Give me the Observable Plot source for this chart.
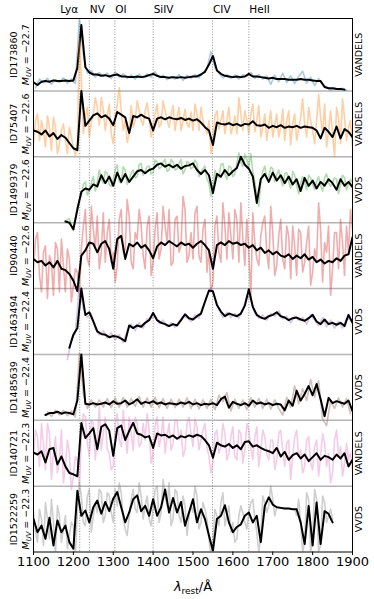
<!DOCTYPE html>
<html>
<head>
<meta charset="utf-8">
<script src="https://cdn.jsdelivr.net/npm/d3@7"></script>
<script src="https://cdn.jsdelivr.net/npm/@observablehq/plot@0.6"></script>
<style>
html,body{margin:0;padding:0;background:#fff;}
#chart{width:374px;height:599px;overflow:hidden;}
</style>
</head>
<body>
<div id="chart"></div>
<script>
const ids = ["ID173860","ID75407","ID1499379","ID90440","ID1463494","ID1485639","ID140721","ID1522259"];
const muv = ["−22.7","−22.6","−22.6","−22.6","−22.4","−22.4","−22.3","−22.3"];
const surveys = ["VANDELS","VANDELS","VVDS","VANDELS","VVDS","VVDS","VANDELS","VVDS"];
const colors = ["#1f77b4","#ff7f0e","#2ca02c","#d62728","#9467bd","#8c564b","#e377c2","#7f7f7f"];
const lineNames = ["Lyα","NV","OI","SiIV","CIV","HeII"];
const lineWaves = [1216,1240,1304,1400,1549,1640];
const xTicks = [1100,1200,1300,1400,1500,1600,1700,1800,1900];

const lamSmooth = [1100,1110,1120,1130,1140,1150,1160,1170,1180,1190,
  1200,1210,1220,1230,1240,1250,1260,1270,1280,1290,
  1300,1310,1320,1330,1340,1350,1360,1370,1380,1390,
  1400,1410,1420,1430,1440,1450,1460,1470,1480,1490,
  1500,1510,1520,1530,1540,1550,1560,1570,1580,1590,
  1600,1610,1620,1630,1640,1650,1660,1670,1680,1690,
  1700,1710,1720,1730,1740,1750,1760,1770,1780,1790,
  1800,1810,1820,1830,1840,1850,1860,1870,1880,1890,1900];
const lamRaw = [1105,1115,1125,1135,1145,1155,1165,1175,1185,1195,
  1205,1215,1225,1235,1245,1255,1265,1275,1285,1295,
  1305,1315,1325,1335,1345,1355,1365,1375,1385,1395,
  1405,1415,1425,1435,1445,1455,1465,1475,1485,1495,
  1505,1515,1525,1535,1545,1555,1565,1575,1585,1595,
  1605,1615,1625,1635,1645,1655,1665,1675,1685,1695,
  1705,1715,1725,1735,1745,1755,1765,1775,1785,1795,
  1805,1815,1825,1835,1845,1855,1865,1875,1885,1895];

// smoothed (black) spectra, in panel units, on lamSmooth
const smooth1 = [.13,.09,.14,.15,.14,.16,.15,.15,.16,.15,
  .16,.35,1.0,.36,.28,.25,.25,.23,.24,.22,
  .24,.25,.22,.22,.21,.21,.22,.21,.22,.24,
  .26,.23,.21,.21,.20,.21,.20,.21,.20,.21,
  .22,.22,.25,.29,.40,.53,.31,.26,.23,.22,
  .21,.22,.21,.22,.26,.22,.22,.21,.20,.19,
  .20,.18,.18,.18,.17,.17,.17,.18,.17,.17,
  .16,.15,.15,.06,.04,.04,.03,.03,.02,null,null];
const smooth2 = [.40,.38,.34,.40,.31,.36,.27,.33,.29,.21,
  .13,.10,1.0,.47,.55,.63,.66,.60,.63,.58,
  .48,.68,.64,.60,.36,.62,.60,.64,.60,.58,
  .40,.58,.60,.57,.60,.58,.57,.59,.56,.58,
  .55,.57,.52,.45,.40,.18,.52,.50,.49,.51,
  .48,.50,.47,.50,.49,.54,.48,.47,.49,.44,
  .47,.45,.48,.44,.46,.45,.47,.44,.46,.45,
  .44,.40,.28,.44,.38,.30,.46,.28,.42,.38,.30];
const smooth3 = [null,null,null,null,null,null,null,null,.02,.00,
  -.10,.20,.47,.52,.50,.58,.55,.72,.60,.70,
  .56,.76,.62,.74,.62,.70,.78,.80,.75,.80,
  .82,.88,.90,.85,.88,.84,.88,.82,.86,.87,
  .90,.80,.74,.80,.72,.45,.74,.70,.80,.72,
  .78,.83,1.0,.88,.82,.70,.30,.66,.74,.62,
  .76,.64,.72,.60,.70,.58,.66,.48,.68,.56,
  .64,.52,.62,.56,.66,.60,.50,.66,.56,.62,.54];
const smooth4 = [.45,.40,.42,.35,.40,.32,.42,.30,.28,.22,
  .12,-.04,.50,.58,.70,.68,.55,.68,.72,.60,
  .30,.75,.80,.45,.68,.64,.70,.62,.66,.58,
  .46,.64,.70,.66,.72,.68,.64,.70,.66,.68,
  .62,.68,.72,.66,.58,.30,.66,.70,.66,.72,
  .68,.70,.66,.68,.62,.66,.58,.62,.54,.58,
  .52,.56,.50,.48,.52,.45,.50,.46,.52,.44,
  .48,.40,.44,.38,.42,.40,.46,.42,.50,.52,.78];
const smooth5 = [null,null,null,null,null,null,null,null,null,.10,
  .30,.40,1.0,.60,.64,.50,.35,.31,.30,.26,
  .28,.27,.24,.20,.44,.40,.44,.42,.48,.52,
  .63,.52,.48,.46,.43,.46,.44,.52,.61,.55,
  .53,.58,.62,.80,.97,.96,.75,.65,.58,.62,
  .60,.58,.62,.74,.99,.72,.60,.56,.54,.58,
  .60,.64,.58,.56,.52,.55,.56,.53,.51,.55,
  .60,.50,.46,.53,.46,.48,.45,.48,.43,.60,.48];
const smooth6 = [null,null,null,.08,.11,.11,.13,.10,.12,.11,
  .09,.30,1.0,.25,.24,.26,.24,.25,.27,.24,
  .29,.25,.26,.30,.24,.27,.32,.25,.28,.26,
  .29,.25,.27,.24,.26,.25,.24,.27,.25,.28,
  .24,.26,.23,.25,.24,.26,.23,.32,.36,.19,
  .28,.25,.23,.26,.22,.30,.25,.27,.24,.26,
  .23,.25,.24,.15,.30,.22,.45,.30,.40,.52,
  .38,.55,.32,.06,.34,.26,.29,.27,.25,.30,.14];
const smooth7 = [.51,.48,.53,.36,.56,.58,.33,.45,.30,.20,
  .18,.15,.96,.73,.80,.88,.56,.90,.94,.84,
  .46,.88,.92,.70,.84,.96,.80,.78,.74,.76,
  .58,.80,.77,.78,.74,.77,.72,.76,.74,.77,
  .75,.78,.76,.70,.62,.43,.66,.62,.60,.64,
  .58,.62,.56,.67,.68,.60,.62,.58,.55,.53,
  .50,.58,.45,.52,.40,.47,.50,.42,.48,.38,
  .44,.50,.40,.46,.44,.40,.48,.42,.50,.30,.40];
const smooth8 = [.50,.30,.40,.20,.52,.10,.48,.30,.40,.15,
  .05,.93,.55,.63,.45,.68,.78,.58,.76,.62,
  .81,.91,.68,.45,.60,.80,.86,.62,.70,.55,
  .80,.55,.68,.95,.60,.82,.60,.76,.40,.60,
  .80,.45,.65,.50,.25,.02,.50,.55,.71,.45,
  .30,.38,.42,.55,.60,.45,.55,.15,.70,.83,
  .72,.68,.67,.66,.66,.65,.65,.45,.12,.70,
  .10,.75,.12,.62,.58,.45,null,null,null,null,null];

// observed (coloured) spectra, in panel units, on lamRaw
const raw1 = [.05,.18,.13,.19,.10,.17,.13,.20,.12,.18,
  .11,1.1,.55,.27,.31,.21,.28,.22,.27,.19,
  .29,.21,.26,.19,.24,.18,.25,.20,.26,.21,
  .29,.20,.24,.17,.22,.18,.25,.16,.24,.19,
  .25,.20,.28,.34,.60,.36,.27,.20,.25,.19,
  .24,.18,.25,.22,.28,.19,.25,.18,.23,.10,
  .24,.14,.27,.13,.23,.11,.22,.30,.12,.21,
  .08,.19,.10,.06,.01,.05,.02,.04,.01,null];
const raw2 = [.55,.25,.38,.62,.10,.45,.20,.50,.05,.30,
  .02,1.80,.35,.75,.52,.90,.48,.72,.62,.35,
  .55,1.05,.40,.22,.78,.55,.70,.48,.82,.30,
  .65,.45,.85,.55,.62,.40,.75,.55,.50,.68,
  .80,.40,.55,.35,.05,.62,.42,.70,.55,.35,
  .62,.90,.40,.55,.65,.38,.78,.45,.25,.70,
  .48,.30,.72,.55,.18,.65,.42,.88,.30,.55,
  .20,.95,.35,.15,.70,.00,.60,.88,.25,.55];
const raw3 = [null,null,null,null,null,null,null,null,.05,-.05,
  .05,.35,.58,.42,.60,.48,.80,.60,.75,.55,
  .80,.62,.85,.58,.75,.68,.88,.72,.85,.74,
  .95,.82,.92,.78,.96,.80,.90,.74,.93,.82,
  .95,.70,.82,.66,.40,.80,.68,.90,.66,.84,
  .74,1.06,.85,.96,1.05,.62,.25,.78,.66,.84,
  .62,.80,.56,.76,.52,.72,.44,.70,.50,.68,
  .50,.70,.48,.74,.55,.68,.44,.72,.50,.66];
const raw4 = [.75,.20,.55,-.15,.40,.70,-.05,.35,.60,-.20,
  .30,-.10,.95,.45,1.25,.60,.30,1.15,.85,.40,
  .10,1.05,.55,1.35,.40,.85,1.20,.50,.95,.20,
  .90,.45,1.25,.70,.35,1.05,.55,1.40,.40,.85,
  1.15,.50,.90,.25,-.05,.95,.55,1.30,.45,.80,
  1.20,.40,.75,1.05,-.15,.70,.35,1.00,.55,1.25,
  .20,.80,.45,.95,.15,.65,.90,.25,.70,.05,
  .60,1.30,.10,.55,-.10,.85,.30,.70,.95,1.20];
const raw5 = [null,null,null,null,null,null,null,null,-.08,.22,
  .33,1.05,.70,.56,.62,.38,.30,.36,.25,.33,
  .22,.30,.18,.36,.46,.36,.48,.40,.54,.55,
  .58,.47,.52,.42,.48,.41,.50,.58,.56,.50,
  .60,.55,.72,.88,1.02,.86,.68,.56,.64,.56,
  .62,.55,.68,.88,.85,.62,.55,.60,.52,.62,
  .58,.66,.54,.58,.48,.58,.52,.56,.46,.60,
  .52,.44,.56,.42,.52,.40,.50,.40,.55,.52];
const raw6 = [null,null,null,.13,.06,.15,.08,.15,.07,.14,
  .05,1.02,.40,.18,.31,.20,.31,.20,.33,.19,
  .34,.20,.35,.20,.33,.21,.36,.20,.34,.20,
  .35,.19,.33,.18,.32,.19,.32,.20,.34,.18,
  .32,.17,.31,.18,.32,.16,.38,.28,.42,.14,
  .32,.18,.31,.16,.34,.20,.33,.18,.32,.17,
  .31,.18,.08,.35,.20,.52,.25,.48,.30,.62,
  .35,.60,.02,-.08,.30,.18,.34,.20,.33,.10];
const raw7 = [.85,.30,.65,.95,.10,.75,.40,.05,.70,-.05,
  .45,.00,1.10,.65,1.00,.40,1.20,.80,.55,.25,
  .95,.70,1.15,.50,.80,1.05,.60,.95,1.10,.35,
  .90,.60,1.05,.75,.55,1.00,.70,.45,.95,.80,
  1.02,.55,.85,.60,.20,.80,.50,.95,.40,.75,
  .45,.85,.35,.95,.60,.75,.30,.85,.50,.70,
  .25,.80,.55,.65,.10,.75,.45,.20,.70,.35,
  .60,.15,.80,.30,.05,.70,.45,.15,.65,.50];
const raw8 = [.30,.65,.10,.50,.80,-.05,.55,.35,.05,.45,
  -.05,1.05,.45,.85,.30,.75,.95,.45,.90,.60,
  .95,1.05,.50,.25,.80,.65,1.05,.50,.85,.40,
  .95,.45,1.10,.70,.40,.95,.55,.85,.25,.70,
  1.00,.35,.75,.50,-.05,.65,.40,.90,.55,.30,
  .15,.55,.60,.35,.75,.50,.00,.85,.60,1.00,
  .55,.68,.66,.66,.65,.65,.80,.00,.90,-.02,
  .95,.00,.85,.45,.65,null,null,null,null,null];

// extra observed samples of the noisier spectra, on lamSmooth
const raw2b = [.20,.65,.55,.15,.45,.60,.05,.40,.25,.45,
  .15,.20,1.20,.60,.30,.65,.75,.90,.40,.80,
  .20,.80,.70,.55,.35,.45,.85,.55,.70,.60,
  .45,.80,.50,.70,.45,.78,.60,.40,.72,.45,
  .40,.65,.75,.45,.55,.20,.70,.55,.35,.75,
  .45,.35,.65,.70,.35,.80,.55,.30,.65,.50,
  .30,.65,.45,.25,.70,.50,.25,.60,.50,.75,
  .40,.55,.60,.80,.40,.35,.75,.20,.60,.45,.15];
const raw3b = [null,null,null,null,null,null,null,null,.00,.06,
  -.12,.25,.40,.62,.48,.70,.62,.66,.78,.58,
  .66,.88,.60,.80,.66,.80,.70,.90,.78,.86,
  .76,.92,.84,.96,.80,.92,.82,.96,.80,.90,
  .84,.90,.76,.86,.60,.50,.72,.88,.74,.86,
  .70,.90,.92,1.04,.84,.78,.40,.60,.86,.70,
  .82,.72,.66,.74,.62,.78,.56,.60,.62,.72,
  .58,.62,.56,.68,.60,.62,.66,.58,.68,.58,.60];
const raw4b = [.30,.85,-.05,.65,.50,-.10,.60,.75,-.05,.45,
  .05,.25,.60,1.20,.35,.90,1.10,.55,.40,1.05,
  .55,.35,1.20,.60,1.10,.30,.75,.95,.30,1.10,
  .40,1.15,.60,.95,1.20,.40,1.10,.65,1.20,.50,
  .45,1.25,.40,1.05,.60,.10,1.10,.40,.95,1.15,
  .45,1.05,1.30,.35,.55,1.15,.45,.80,1.10,.30,
  .85,.35,1.05,.30,.80,.95,.20,.85,.40,.95,
  .25,.45,.90,.70,.95,.30,.85,1.05,.20,.55,.90];
const raw7b = [.45,.75,.95,.25,.80,.50,.20,.85,.30,.50,
  .15,.40,.75,1.05,.45,.95,.70,.55,1.05,.50,
  .30,1.10,.60,.80,1.05,.55,.95,.65,.70,.85,
  .50,1.05,.75,.50,.95,.65,1.00,.85,.55,1.05,
  .60,.90,.70,.95,.45,.35,.85,.60,.80,.50,
  .90,.40,.80,.55,.85,.40,.90,.55,.75,.40,
  .70,.40,.85,.30,.70,.45,.85,.55,.30,.75,
  .25,.70,.45,.65,.50,.20,.85,.60,.35,.40,.25];
const raw8b = [.60,.15,.50,.75,.20,.45,.70,.15,.55,.25,
  .40,.60,.85,.40,.95,.55,.60,.90,.55,.85,
  .45,.70,.90,.35,.55,.95,.60,.85,.70,.50,
  .65,1.00,.60,.85,1.05,.50,.90,.45,.70,.55,
  .60,.85,.45,.65,.20,.15,.55,.75,.40,.70,
  .45,.20,.70,.45,.60,.80,.30,.25,.75,.70,
  .80,.68,.67,.66,.66,.65,.55,.45,.15,.80,
  .25,.80,.10,.75,.55,.50,null,null,null,null,null];

const smoothAll = [smooth1,smooth2,smooth3,smooth4,smooth5,smooth6,smooth7,smooth8];
const rawAll = [raw1,raw2,raw3,raw4,raw5,raw6,raw7,raw8];
const rawExtra = [null,raw2b,raw3b,raw4b,null,null,raw7b,raw8b];

const nPanels = ids.length;
const panels = ids.map((id, i) => ({
  id, muv: muv[i], survey: surveys[i], color: colors[i], base: nPanels - 1 - i,
  smooth: smoothAll[i], raw: rawAll[i], extra: rawExtra[i]
}));

const toRows = (lams, vals, base) => lams.map((l, k) => ({lam: l, v: vals[k] == null ? NaN : vals[k] + base}));
const rawRows = p => {
  const rows = toRows(lamRaw, p.raw, p.base);
  if (p.extra) rows.push(...toRows(lamSmooth, p.extra, p.base));
  return rows.sort((a, b) => a.lam - b.lam);
};

const marks = [
  Plot.ruleX(lineWaves, {stroke: "#8c8c8c", strokeWidth: 1, strokeDasharray: "1,1.7"}),
  Plot.ruleY(d3.range(1, nPanels), {stroke: "#b4b4b4", strokeWidth: 1.5})
];
panels.forEach(p => {
  marks.push(Plot.line(rawRows(p), {x: "lam", y: "v", stroke: p.color, strokeOpacity: 0.38, strokeWidth: 1.6, clip: true}));
  marks.push(Plot.line(toRows(lamSmooth, p.smooth, p.base), {x: "lam", y: "v", stroke: "black", strokeWidth: 2, clip: true}));
});
marks.push(Plot.frame({stroke: "black", strokeWidth: 1}));

const labelY = panels.map(p => p.base === nPanels - 1 ? p.base + 0.55 : p.base + 0.5);
const sideText = {frameAnchor: "left", rotate: -90, fontSize: 9.5, fill: "black", textAnchor: "middle", lineAnchor: "middle"};
marks.push(Plot.text(panels, {...sideText, y: (d, i) => labelY[i], text: "id", dx: -20}));
marks.push(Plot.text(panels, {...sideText, y: (d, i) => labelY[i], text: d => "M_UV = " + d.muv, dx: -8}));
marks.push(Plot.text(panels, {...sideText, frameAnchor: "right", y: (d, i) => labelY[i], text: "survey", dx: 6}));
marks.push(Plot.text(lineNames, {x: (d, i) => lineWaves[i], text: d => d, frameAnchor: "top", dy: -9, lineAnchor: "middle",
  textAnchor: "start", dx: 0.5, fontSize: 10.5, fill: "black", filter: d => d !== "Lyα"}));
marks.push(Plot.text(lineNames, {x: (d, i) => lineWaves[i], text: d => d, frameAnchor: "top", dy: -9, lineAnchor: "middle",
  textAnchor: "end", dx: -1.5, fontSize: 10.5, fill: "black", filter: d => d === "Lyα"}));
marks.push(Plot.axisX({ticks: xTicks, tickFormat: d => String(d), tickSize: 3.5, tickPadding: 1.2, fontSize: 13, label: null}));
marks.push(Plot.text(["λ_rest/Å"], {frameAnchor: "bottom", dy: 35, lineAnchor: "middle", textAnchor: "middle", text: d => d, fontSize: 13, fill: "black"}));

const chart = Plot.plot({
  width: 374,
  height: 599,
  marginTop: 18,
  marginBottom: 47.5,
  marginLeft: 33,
  marginRight: 22,
  style: {background: "white", fontFamily: "DejaVu Sans", color: "black", overflow: "visible"},
  x: {domain: [1100, 1900], label: null},
  y: {domain: [0, 8.1], axis: null},
  marks
});
document.getElementById("chart").appendChild(chart);

// typeset math-style labels (subscripts / italics)
d3.select(chart).selectAll("text").each(function() {
  const t = this.textContent;
  const sel = d3.select(this);
  if (t.startsWith("M_UV")) {
    const rest = t.slice(4);
    sel.text(null);
    sel.append("tspan").attr("font-style", "italic").text("M");
    sel.append("tspan").attr("font-style", "italic").attr("font-size", "6.8px").attr("dy", "2.2").text("UV");
    sel.append("tspan").attr("dy", "-2.2").text(rest);
  } else if (t === "λ_rest/Å") {
    sel.text(null);
    sel.append("tspan").attr("font-style", "italic").text("λ");
    sel.append("tspan").attr("font-size", "9px").attr("dy", "3").text("rest");
    sel.append("tspan").attr("dy", "-3").text("/Å");
  }
});
</script>
</body>
</html>
